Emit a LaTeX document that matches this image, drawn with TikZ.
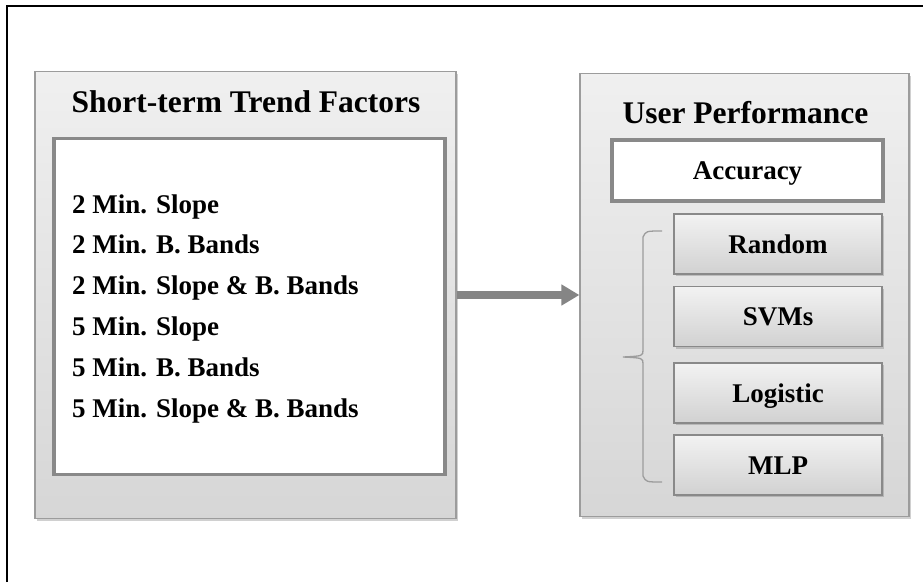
\documentclass[tikz,border=0pt]{standalone}
\usepackage{fontspec}
\setmainfont{Liberation Serif}
\usepackage{tikz}
\usetikzlibrary{arrows.meta,shadows}
\definecolor{framegray}{HTML}{9C9C9C}
\definecolor{rulegray}{HTML}{898989}
\definecolor{arrowgray}{HTML}{858585}
\tikzset{
  panel/.style={draw=framegray, line width=1.2pt, top color=black!6, bottom color=black!16,
    drop shadow={shadow xshift=2pt, shadow yshift=-2.5pt, opacity=0.3, fill=black!60}},
  whitebox/.style={draw=rulegray, line width=3.5pt, fill=white},
  model/.style={draw=rulegray, line width=1.4pt, top color=black!5, bottom color=black!18,
    minimum width=208pt, minimum height=60pt, text height=18pt, text depth=0pt,
    font=\fontsize{27}{32}\selectfont\bfseries,
    drop shadow={shadow xshift=1.5pt, shadow yshift=-2pt, opacity=0.3, fill=black!60}},
  headline/.style={anchor=base, font=\fontsize{31.5}{36}\selectfont\bfseries, inner sep=0pt},
  factor/.style={anchor=base west, font=\fontsize{27}{32}\selectfont\bfseries, inner sep=0pt}
}
\begin{document}
\begin{tikzpicture}[x=1pt,y=-1pt]
    \useasboundingbox[fill=white] (0,0) rectangle (923,582);
    \draw[line width=1.3pt] (7,582)--(7,6)--(923,6);

    \node[panel, minimum width=421pt, minimum height=447pt] (trend) at (245.5,295) {};
    \node[whitebox, minimum width=391pt, minimum height=336pt] (factors) at (249.5,306.5) {};
    \node[headline] (trendtitle) at (246,112) {Short-term Trend Factors};
    \foreach \t [count=\i] in {2 Min. Slope, 2 Min. B. Bands, 2 Min. Slope \& B. Bands,
        5 Min. Slope, 5 Min. B. Bands, 5 Min. Slope \& B. Bands}
        \node[factor] (fac\i) at (72,{213+40.8*(\i-1)}) {\t};

    \node[panel, minimum width=329pt, minimum height=443pt] (perf) at (744.5,295) {};
    \node[headline] (perftitle) at (745.5,123) {User Performance};
    \node[whitebox, minimum width=271pt, minimum height=61pt, text height=18pt, text depth=0pt,
        font=\fontsize{27}{32}\selectfont\bfseries] (acc) at (747.5,170.5) {Accuracy};
    \foreach \m/\n/\y in {Random/rand/244, SVMs/svm/316.5, Logistic/logit/393, MLP/mlp/465}
        \node[model] (\n) at (778,\y) {\m};

    \draw[line width=1.3pt, draw=framegray] (662,231) .. controls (646,231) .. (643,237) -- (643,350)
        .. controls (643,356) .. (623,357) .. controls (643,358) .. (643,364) -- (643,476)
        .. controls (646,482) .. (662,482);

    \draw[line width=8pt, draw=arrowgray, -{Triangle[width=20pt,length=18pt]}] (trend.east) -- (perf.west);
\end{tikzpicture}
\end{document}
